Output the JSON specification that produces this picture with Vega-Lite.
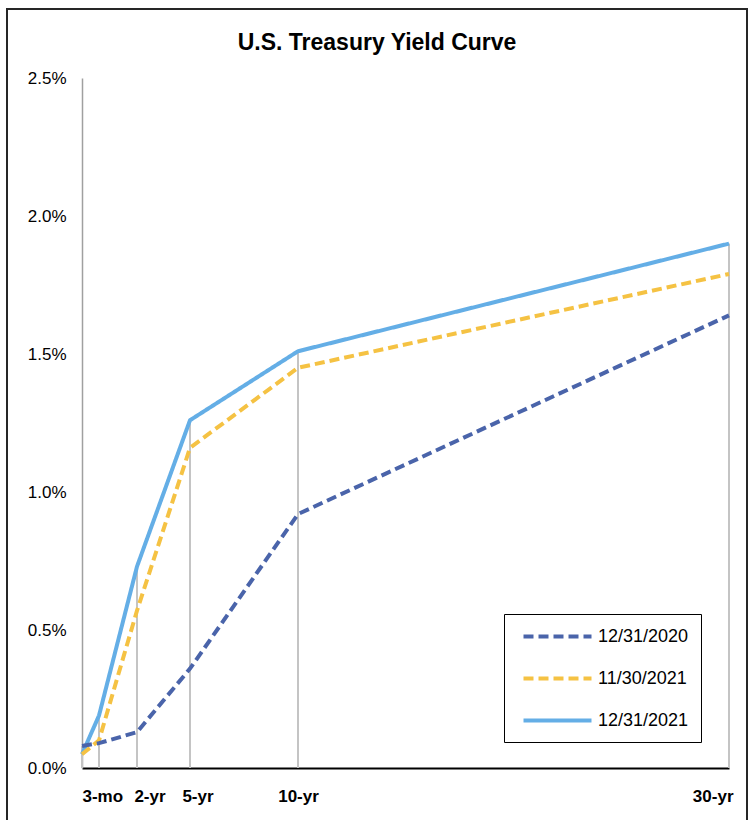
{
  "$schema": "https://vega.github.io/schema/vega-lite/v6.json",
  "width": 740,
  "height": 830,
  "autosize": {"type": "none"},
  "padding": {"left": 7, "top": 9, "right": 7, "bottom": 0},
  "background": "white",
  "config": {
    "font": "Liberation Sans",
    "view": {"stroke": "#262626", "strokeWidth": 2}
  },
  "title": {
    "text": "U.S. Treasury Yield Curve",
    "font": "Liberation Sans",
    "fontSize": 23,
    "fontWeight": "bold",
    "color": "#000000",
    "anchor": "middle",
    "offset": -46
  },
  "data": {
    "values": [
      {"maturity": "3-mo", "years": 0.25, "date": "12/31/2021", "yield": 0.05},
      {"maturity": "6-mo", "years": 0.5, "date": "12/31/2021", "yield": 0.19},
      {"maturity": "2-yr", "years": 2, "date": "12/31/2021", "yield": 0.73},
      {"maturity": "5-yr", "years": 5, "date": "12/31/2021", "yield": 1.26},
      {"maturity": "10-yr", "years": 10, "date": "12/31/2021", "yield": 1.51},
      {"maturity": "30-yr", "years": 30, "date": "12/31/2021", "yield": 1.90},
      {"maturity": "3-mo", "years": 0.25, "date": "11/30/2021", "yield": 0.05},
      {"maturity": "6-mo", "years": 0.5, "date": "11/30/2021", "yield": 0.10},
      {"maturity": "2-yr", "years": 2, "date": "11/30/2021", "yield": 0.57},
      {"maturity": "5-yr", "years": 5, "date": "11/30/2021", "yield": 1.16},
      {"maturity": "10-yr", "years": 10, "date": "11/30/2021", "yield": 1.45},
      {"maturity": "30-yr", "years": 30, "date": "11/30/2021", "yield": 1.79},
      {"maturity": "3-mo", "years": 0.25, "date": "12/31/2020", "yield": 0.08},
      {"maturity": "6-mo", "years": 0.5, "date": "12/31/2020", "yield": 0.09},
      {"maturity": "2-yr", "years": 2, "date": "12/31/2020", "yield": 0.13},
      {"maturity": "5-yr", "years": 5, "date": "12/31/2020", "yield": 0.36},
      {"maturity": "10-yr", "years": 10, "date": "12/31/2020", "yield": 0.92},
      {"maturity": "30-yr", "years": 30, "date": "12/31/2020", "yield": 1.64}
    ]
  },
  "encoding": {
    "x": {
      "field": "years", "type": "quantitative",
      "scale": {"type": "linear", "domain": [0.25, 0.5, 2, 5, 10, 30], "range": [75, 92, 130, 183, 291, 722], "zero": false, "nice": false},
      "axis": {
        "orient": "bottom",
        "offset": -71,
        "title": null,
        "grid": false,
        "ticks": false,
        "domainColor": "#000000",
        "domainWidth": 2,
        "values": [0.25, 2, 5, 10, 30],
        "labelExpr": "datum.value == 0.25 ? '3-mo' : datum.value == 2 ? '2-yr' : datum.value == 5 ? '5-yr' : datum.value == 10 ? '10-yr' : '30-yr'",
        "labelFont": "Liberation Sans",
        "labelFontSize": 17,
        "labelFontWeight": "bold",
        "labelColor": "#000000",
        "labelPadding": 20,
        "labelFlush": false,
        "labelBound": false,
        "labelOverlap": false,
        "labelAlign": {
          "condition": [
            {"test": "datum.value == 0.25", "value": "left"},
            {"test": "datum.value == 30", "value": "right"}
          ],
          "value": "center"
        },
        "labelOffset": {
          "condition": [
            {"test": "datum.value == 2", "value": 12.5},
            {"test": "datum.value == 5", "value": 7.5},
            {"test": "datum.value == 30", "value": 4}
          ],
          "value": 0
        }
      }
    }
  },
  "layer": [
    {
      "mark": {"type": "rule", "color": "#c4c4c4", "strokeWidth": 2},
      "encoding": {
        "y": {
          "aggregate": "max", "field": "yield", "type": "quantitative",
          "scale": {"domain": [0, 2.5], "range": [759, 69], "nice": false, "zero": true},
          "axis": {
            "orient": "left",
            "offset": -75,
            "title": null,
            "grid": false,
            "ticks": false,
            "domainColor": "#a0a0a0",
            "domainWidth": 1.5,
            "values": [0, 0.5, 1, 1.5, 2, 2.5],
            "labelExpr": "format(datum.value, '.1f') + '%'",
            "labelFont": "Liberation Sans",
            "labelFontSize": 17,
            "labelColor": "#000000",
            "labelPadding": 16,
            "labelFlush": false,
            "labelBound": false,
            "labelOverlap": false
          }
        },
        "y2": {"datum": 0}
      }
    },
    {
      "mark": {"type": "line"},
      "encoding": {
        "y": {
          "field": "yield", "type": "quantitative",
          "scale": {"domain": [0, 2.5], "range": [759, 69], "nice": false, "zero": true},
          "axis": {
            "orient": "left",
            "offset": -75,
            "title": null,
            "grid": false,
            "ticks": false,
            "domainColor": "#a0a0a0",
            "domainWidth": 1.5,
            "values": [0, 0.5, 1, 1.5, 2, 2.5],
            "labelExpr": "format(datum.value, '.1f') + '%'",
            "labelFont": "Liberation Sans",
            "labelFontSize": 17,
            "labelColor": "#000000",
            "labelPadding": 16,
            "labelFlush": false,
            "labelBound": false,
            "labelOverlap": false
          }
        },
        "color": {
          "field": "date", "type": "nominal",
          "scale": {"domain": ["12/31/2020", "11/30/2021", "12/31/2021"], "range": ["#4a64aa", "#f5c243", "#64aee6"]},
          "legend": {
            "title": null, "orient": "none", "legendX": 497, "legendY": 605,
            "symbolType": "M-4,0H4", "symbolSize": 289, "symbolOffset": 31, "labelOffset": 30,
            "labelFont": "Liberation Sans", "labelFontSize": 18, "labelColor": "#000000",
            "rowPadding": 22, "padding": 12, "strokeColor": "#000000", "fillColor": "#ffffff"
          }
        },
        "strokeDash": {
          "field": "date", "type": "nominal",
          "scale": {"domain": ["12/31/2020", "11/30/2021", "12/31/2021"], "range": [[10, 5], [10, 5], [1, 0]]},
          "legend": {
            "title": null, "orient": "none", "legendX": 497, "legendY": 605,
            "symbolType": "M-4,0H4", "symbolSize": 289, "symbolOffset": 31, "labelOffset": 30,
            "labelFont": "Liberation Sans", "labelFontSize": 18, "labelColor": "#000000",
            "rowPadding": 22, "padding": 12, "strokeColor": "#000000", "fillColor": "#ffffff"
          }
        },
        "strokeWidth": {
          "field": "date", "type": "ordinal",
          "scale": {"domain": ["12/31/2020", "11/30/2021", "12/31/2021"], "range": [4, 4, 6]},
          "legend": {
            "title": null, "orient": "none", "legendX": 497, "legendY": 605,
            "symbolType": "M-4,0H4", "symbolSize": 289, "symbolOffset": 31, "labelOffset": 30,
            "labelFont": "Liberation Sans", "labelFontSize": 18, "labelColor": "#000000",
            "rowPadding": 22, "padding": 12, "strokeColor": "#000000", "fillColor": "#ffffff"
          }
        }
      }
    }
  ]
}
